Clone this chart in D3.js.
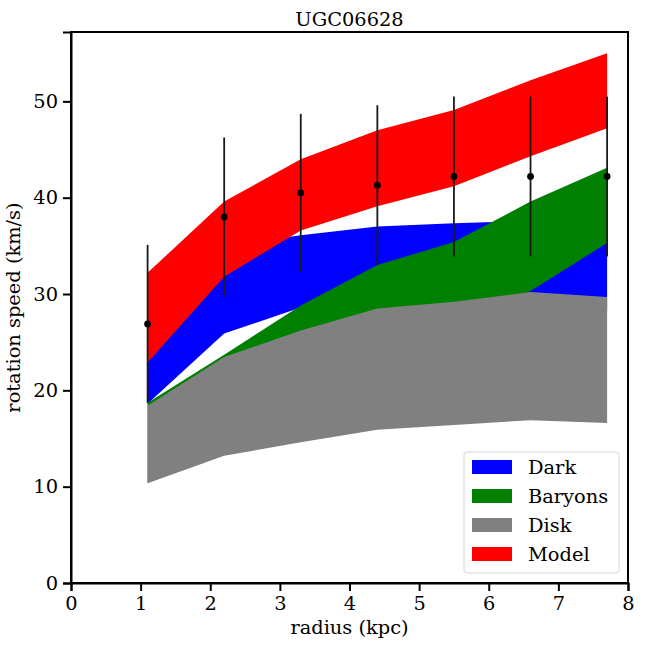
<!DOCTYPE html>
<html>
<head>
<meta charset="utf-8">
<script src="https://cdn.jsdelivr.net/npm/d3@7"></script>
<style>
  body { margin: 0; background: white; }
  text { font-family: "DejaVu Serif", serif; fill: black; }
  .axis path, .axis line { stroke: black; stroke-width: 2px; }
  .axis text { font-size: 19.4px; font-family: "DejaVu Serif", serif; }
</style>
</head>
<body>
<div id="rysRotacja"></div>
<script>
// radius of each measurement (kpc)
var radius = [1.1, 2.2, 3.3, 4.4, 5.5, 6.6, 7.7];
// observed speed and its error (km/s)
var vobs = [26.9, 38.0, 40.5, 41.3, 42.2, 42.2, 42.2];
var verr = [8.2, 8.25, 8.2, 8.3, 8.3, 8.3, 8.3];
// bands: lower / upper edges
var darkLo = [18.6, 25.9, 28.6, 29.4, 29.6, 29.4, 28.3];
var darkHi = [25.5, 35.0, 36.1, 37.0, 37.35, 37.6, 38.5];
var baryLo = [10.4, 13.3, 18.0, 22.6, 26.7, 30.3, 35.3];
var baryHi = [18.7, 23.7, 28.8, 33.0, 35.4, 39.6, 43.1];
var diskLo = [10.35, 13.2, 14.6, 15.9, 16.4, 16.9, 16.6];
var diskHi = [18.4, 23.45, 26.2, 28.5, 29.2, 30.2, 29.7];
var modelLo = [22.9, 31.8, 36.6, 39.1, 41.2, 44.3, 47.2];
var modelHi = [32.2, 39.6, 44.0, 47.0, 49.1, 52.2, 55.0];

var bandNames = ["Dark", "Baryons", "Disk", "Model"];
var bandColors = ["#0000ff", "#008000", "#808080", "#ff0000"];
var bandLo = [darkLo, baryLo, diskLo, modelLo];
var bandHi = [darkHi, baryHi, diskHi, modelHi];

var xTicks = [0, 1, 2, 3, 4, 5, 6, 7, 8];
var yTicks = [0, 10, 20, 30, 40, 50];

var margin = { top: 32, right: 20, bottom: 65, left: 71 };
var width = 557, height = 551;

var svg = d3.select("#rysRotacja")
  .append("svg")
  .attr("width", 648)
  .attr("height", 648)
  .append("g")
  .attr("transform", "translate(" + margin.left + "," + margin.top + ")");

var xscale = d3.scaleLinear().domain([0, 8]).range([0, width]);
var yscale = d3.scaleLinear().domain([0, 57.2]).range([height, 0]);

// bands, drawn in legend order
bandNames.forEach(function (name, k) {
  var rows = radius.map(function (r, i) {
    return { r: r, lo: bandLo[k][i], hi: bandHi[k][i] };
  });
  svg.append("path")
    .datum(rows)
    .attr("fill", bandColors[k])
    .attr("d", d3.area()
      .x(function (d) { return xscale(d.r) })
      .y0(function (d) { return yscale(d.lo) })
      .y1(function (d) { return yscale(d.hi) })
    );
});

// error bars and points
var obs = radius.map(function (r, i) { return { r: r, v: vobs[i], e: verr[i] }; });

svg.append("g")
  .selectAll("line")
  .data(obs)
  .enter().append("line")
  .attr("x1", d => xscale(d.r))
  .attr("x2", d => xscale(d.r))
  .attr("y1", d => yscale(d.v - d.e))
  .attr("y2", d => yscale(d.v + d.e))
  .attr("stroke", "#1a1a1a")
  .attr("stroke-width", 1.8);

svg.append("g")
  .selectAll("circle")
  .data(obs)
  .enter().append("circle")
  .attr("cx", d => xscale(d.r))
  .attr("cy", d => yscale(d.v))
  .attr("r", 3.4)
  .attr("fill", "black");

// axes
svg.append("g")
  .attr("class", "axis")
  .attr("transform", "translate(0," + height + ")")
  .call(d3.axisBottom(xscale).tickValues(xTicks).tickFormat(d3.format("d")).tickSizeOuter(0).tickSize(8).tickPadding(5));

svg.append("g")
  .attr("class", "axis")
  .call(d3.axisLeft(yscale).tickValues(yTicks).tickFormat(d3.format("d")).tickSizeOuter(0).tickSize(8).tickPadding(5));

// frame
svg.append("rect")
  .attr("x", 0)
  .attr("y", 0)
  .attr("width", width)
  .attr("height", height)
  .attr("fill", "none")
  .attr("stroke", "black")
  .attr("stroke-width", 2);

// title and labels
svg.append("text")
  .attr("x", width / 2)
  .attr("y", -6)
  .attr("text-anchor", "middle")
  .style("font-size", "19.4px")
  .text("UGC06628");

svg.append("text")
  .attr("x", width / 2)
  .attr("y", height + 51)
  .attr("text-anchor", "middle")
  .style("font-size", "19.4px")
  .text("radius (kpc)");

svg.append("text")
  .attr("transform", "translate(" + (-51) + "," + (height / 2) + ")rotate(-90)")
  .attr("text-anchor", "middle")
  .style("font-size", "19.4px")
  .text("rotation speed (km/s)");

// legend
var legend = svg.append("g")
  .attr("transform", "translate(" + (464 - margin.left) + "," + (452 - margin.top) + ")");

legend.append("rect")
  .attr("width", 155)
  .attr("height", 121)
  .attr("rx", 3)
  .attr("fill", "white")
  .attr("fill-opacity", 0.8)
  .attr("stroke", "#d6d6d6")
  .attr("stroke-width", 1);

var rowsL = legend.selectAll(".row")
  .data(bandNames)
  .enter().append("g")
  .attr("transform", (d, i) => "translate(0," + (15 + i * 29) + ")");

rowsL.append("rect")
  .attr("x", 8)
  .attr("y", -7)
  .attr("width", 40)
  .attr("height", 14)
  .attr("fill", (d, i) => bandColors[i]);

rowsL.append("text")
  .attr("x", 64)
  .attr("y", 7)
  .style("font-size", "19.4px")
  .text(d => d);
</script>
</body>
</html>
